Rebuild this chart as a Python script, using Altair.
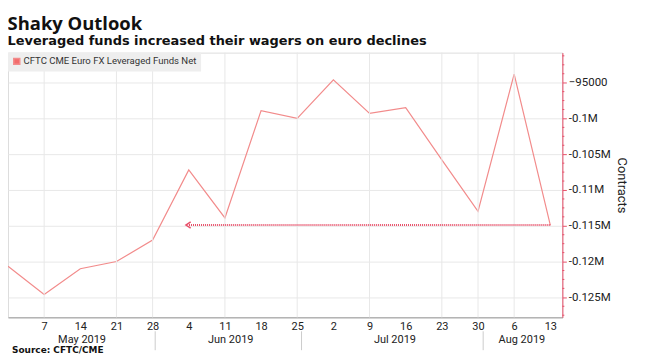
import altair as alt
import pandas as pd

# ---- data ----
dates = ["2019-04-30", "2019-05-07", "2019-05-14", "2019-05-21", "2019-05-28",
         "2019-06-04", "2019-06-11", "2019-06-18", "2019-06-25", "2019-07-02",
         "2019-07-09", "2019-07-16", "2019-07-23", "2019-07-30", "2019-08-06",
         "2019-08-13"]
values = [-120650, -124600, -121000, -120000, -117000,
          -107200, -113900, -98900, -100000, -94600,
          -99300, -98500, -105800, -113000, -93800,
          -114900]
series_name = "CFTC CME Euro FX Leveraged Funds Net"

arrow_start = "2019-08-13"
arrow_end = "2019-06-04"
arrow_value = -114900

tick_dates = ["2019-05-07", "2019-05-14", "2019-05-21", "2019-05-28", "2019-06-04",
              "2019-06-11", "2019-06-18", "2019-06-25", "2019-07-02", "2019-07-09",
              "2019-07-16", "2019-07-23", "2019-07-30", "2019-08-06", "2019-08-13"]
grid_dates = ["2019-05-07", "2019-05-21", "2019-05-28", "2019-06-11", "2019-06-25",
              "2019-07-09", "2019-07-23", "2019-07-30", "2019-08-06"]
month_labels = ["May 2019", "Jun 2019", "Jul 2019", "Aug 2019"]
month_label_dates = ["2019-05-14T08:00", "2019-06-12T03:00", "2019-07-13T22:00", "2019-08-07T12:00"]
month_sep_dates = ["2019-05-28T12:00", "2019-06-25T20:00", "2019-07-31T00:00"]
y_ticks = [-95000, -100000, -105000, -110000, -115000, -120000, -125000]
y_minor = [v for v in range(-127500, -90000, 1250) if v % 5000 != 0]
source_text = "Source: CFTC/CME"
title_text = "Shaky Outlook"
subtitle_text = "Leveraged funds increased their wagers on euro declines"

W, H = 557, 266
FONT = "Roboto"
BOLD = "DejaVu Sans"

x_domain = [alt.DateTime(year=2019, month=4, date=30, utc=True),
            alt.DateTime(year=2019, month=8, date=15, hours=8, utc=True)]
y_domain = [-127800, -90800]


def utc(s):
    return pd.to_datetime(s).strftime("%Y-%m-%dT%H:%M:%SZ")


df = pd.DataFrame({"date": [utc(d) for d in dates], "value": values, "series": series_name})
xs = alt.Scale(type="utc", domain=x_domain)
ys = alt.Scale(domain=y_domain, nice=False, zero=False)

xaxis = alt.Axis(values=[alt.DateTime(year=int(d[:4]), month=int(d[5:7]), date=int(d[8:10]), utc=True) for d in tick_dates],
                 labelExpr="utcFormat(datum.value, '%-d')", title=None, grid=False,
                 domainColor="#999999", ticks=False, labelFont=FONT, labelFontSize=11,
                 labelColor="#222222", labelPadding=3, labelOverlap=False)
yaxis = alt.Axis(orient="right", values=y_ticks, title="Contracts", titleFont=FONT,
                 titleFontSize=13, titleFontWeight="normal", titleAngle=90,
                 titleColor="#222222", titlePadding=4,
                 labelExpr="abs(datum.value) < 100000 ? format(datum.value, 'd') : (datum.value / 1000000) + 'M'",
                 labelFont=FONT, labelFontSize=11.5, labelColor="#222222",
                 domainColor="#e8506a", tickColor="#e8506a", tickSize=4,
                 gridColor="#e8e8e8", grid=True, labelOverlap=False)

line = alt.Chart(df).mark_line(strokeWidth=1.2).encode(
    x=alt.X("date:T", scale=xs, axis=xaxis),
    y=alt.Y("value:Q", scale=ys, axis=yaxis),
    color=alt.Color("series:N", scale=alt.Scale(domain=[series_name], range=["#f28b8b"]),
                    legend=alt.Legend(orient="none", legendX=0, legendY=0, title=None,
                                      fillColor="#eeeeee", padding=4, symbolType="square",
                                      symbolFillColor="#f26b6b", symbolStrokeColor="#f26b6b",
                                      symbolSize=36, labelFont=FONT, labelFontSize=9.6,
                                      labelColor="#333333", labelOffset=2, labelLimit=400)),
)

grid = alt.Chart(pd.DataFrame({"d": [utc(d) for d in grid_dates]})).mark_rule(
    color="#e8e8e8", strokeWidth=1).encode(x=alt.X("d:T", scale=xs, axis=xaxis))

minor = alt.Chart(pd.DataFrame({"v": y_minor})).mark_rule(color="#e8506a", strokeWidth=1).encode(
    y=alt.Y("v:Q", scale=ys, axis=yaxis), x=alt.value(W), x2=alt.value(W + 2))

arrow_df = pd.DataFrame({"d1": [utc(arrow_start)], "d2": [utc(arrow_end)], "v": [arrow_value]})
arrow_line = alt.Chart(arrow_df).mark_rule(color="#e8506a", strokeWidth=2, strokeDash=[1, 1]).encode(
    x=alt.X("d1:T", scale=xs, axis=xaxis), x2="d2:T", y=alt.Y("v:Q", scale=ys, axis=yaxis))
arrow_head = alt.Chart(arrow_df).mark_point(
    shape="M0.6,-1L-0.9,0L0.6,1", filled=False, color="#e8506a", strokeWidth=1.5, size=40, opacity=1
).encode(x=alt.X("d2:T", scale=xs, axis=xaxis), y=alt.Y("v:Q", scale=ys, axis=yaxis))

seps = alt.Chart(pd.DataFrame({"d": [utc(d) for d in month_sep_dates]})).mark_rule(
    color="#cccccc", strokeWidth=1).encode(
    x=alt.X("d:T", scale=xs, axis=xaxis), y=alt.value(H + 14), y2=alt.value(H + 33))

months = alt.Chart(pd.DataFrame({"d": [utc(d) for d in month_label_dates], "t": month_labels})).mark_text(
    font=FONT, fontSize=11, color="#222222", baseline="alphabetic", align="center").encode(
    x=alt.X("d:T", scale=xs, axis=xaxis), y=alt.value(H + 25.5), text="t:N")

source = alt.Chart(pd.DataFrame({"t": [source_text]})).mark_text(
    font=BOLD, fontSize=9, fontWeight="bold", color="#111111", align="left", baseline="alphabetic").encode(
    x=alt.value(4), y=alt.value(H + 36), text="t:N")

chart = alt.layer(line, grid, seps, months, source, arrow_line, arrow_head, minor).properties(
    width=W, height=H,
    title=alt.TitleParams(title_text, subtitle=subtitle_text,
                          anchor="start", font="Open Sans", fontSize=18.5, fontWeight="bold", color="#111111",
                          subtitleFont=BOLD, subtitleFontSize=13, subtitleFontWeight="bold",
                          subtitleColor="#111111", offset=4, subtitlePadding=2, dx=2),
    autosize=alt.AutoSizeParams(type="none"),
    padding={"left": 0, "top": 44, "right": 76, "bottom": 39},
).configure_view(stroke=None).configure(background="white")

chart.save("out.html", embed_options={"renderer": "svg", "actions": False})
